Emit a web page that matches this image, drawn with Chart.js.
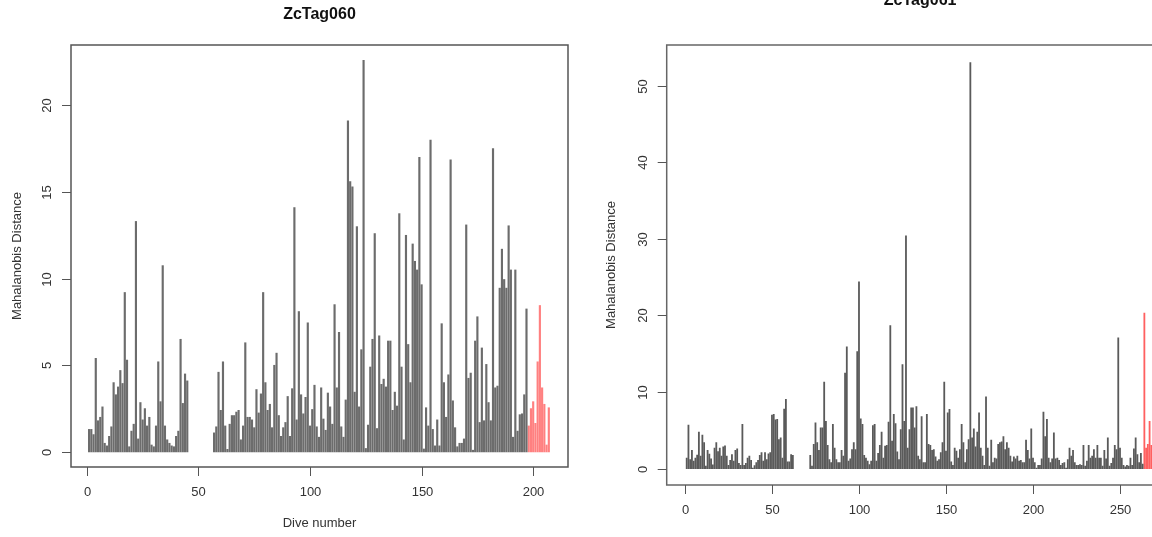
<!DOCTYPE html>
<html>
<head>
<meta charset="utf-8">
<script src="https://cdn.jsdelivr.net/npm/chart.js@4/dist/chart.umd.min.js"></script>
<style>
  html, body { margin: 0; padding: 0; background: #fff; overflow: hidden; width: 1152px; height: 537px; }
  canvas { position: absolute; top: 0; }
  #tag060 { left: 0; }
  #tag061 { left: 590px; }
</style>
</head>
<body>
<canvas id="tag060" width="590" height="537"></canvas>
<canvas id="tag061" width="610" height="537"></canvas>
<script>
// ZcTag060 - Mahalanobis distance per dive, dives 1..197 grey (null = no dive), 198..207 red
const tag060Gray = [
    1.3, 1.3, 1.0, 5.4, 1.8, 2.0, 2.6, 0.5, 0.35, 0.9,
    1.45, 4.0, 3.3, 3.75, 4.7, 3.95, 9.2, 5.3, 0.3, 1.2,
    1.6, 13.3, 0.75, 2.85, 1.85, 2.5, 1.5, 2.0, 0.4, 0.3,
    1.5, 5.2, 2.9, 10.75, 1.5, 0.7, 0.5, 0.35, 0.3, 0.9,
    1.2, 6.5, 2.8, 4.5, 4.1,
    null, null, null, null, null, null, null, null, null, null, null,
    1.1, 1.45, 4.6, 2.4, 5.2, 1.5, 0.15, 1.6, 2.1, 2.1,
    2.3, 2.4, 0.7, 1.5, 6.3, 2.0, 2.0, 1.85, 1.4, 3.6,
    2.25, 3.35, 9.2, 4.0, 2.4, 2.75, 1.4, 5.0, 5.7, 2.1,
    0.9, 1.4, 1.7, 3.2, 0.9, 3.65, 14.1, 1.85, 8.1,
    3.3, 2.2, 3.15, 7.45, 1.5, 2.45, 3.85, 1.45, 0.85, 3.7,
    1.9, 1.25, 3.4, 2.6, 1.6, 8.5, 3.7, 6.9, 1.45, 0.85,
    3.0, 19.1, 15.6, 15.3, 3.45, 13.0, 2.6, 5.9, 22.6, 0.2,
    1.55, 4.9, 6.5, 12.6, 1.35, 6.7, 3.9, 4.2, 3.75, 6.4,
    6.4, 2.4, 3.45, 2.65, 13.75, 4.9, 0.7, 12.5, 6.2,
    4.0, 12.0, 11.0, 10.5, 17.0, 9.65, 0.17, 2.55, 1.5, 18.0,
    1.3, 0.35, 1.85, 0.35, 7.4, 4.0, 2.0, 4.45, 16.85, 2.95,
    1.4, 0.3, 0.5, 0.5, 0.75, 13.1, 4.25, 4.55, 0.1, 6.4,
    7.8, 1.7, 6.0, 1.8, 5.05, 2.85, 1.8, 17.5, 3.7, 3.8,
    9.45, 11.7, 9.95, 9.45, 13.05, 10.5, 0.85, 10.5, 1.2, 2.15,
    2.2, 3.3, 8.25
];
const tag060RedFirstDive = 198;
const tag060Red = [1.5, 2.5, 2.9, 1.65, 5.2, 8.45, 3.7, 2.75, 0.4, 2.55];
const tag060XTicks = [0, 50, 100, 150, 200];
const tag060YTicks = [0, 5, 10, 15, 20];

// ZcTag061 - dives 1..263 grey, 264..270 red
const tag061Gray = [
    1.4, 5.7, 1.2, 2.4, 1.0, 1.4, 1.8, 4.8, 1.65, 4.4,
    3.4, 0.35, 2.4, 1.9, 1.3, 0.5, 2.7, 3.4, 2.25, 2.7,
    1.65, 2.85, 3.0, 1.65, 0.45, 1.1, 1.85, 1.0, 2.4, 2.6,
    0.7, 0.45, 5.8, 0.45, 0.7, 1.4, 1.65, 1.1, 0.1, 0.4,
    0.8, 1.1, 1.75, 2.1, 1.0, 2.1, 1.2, 1.95, 2.1, 7.0,
    7.1, 6.4, 6.45, 3.8, 4.05, 1.4, 7.8, 9.05, 0.9, 0.9,
    1.85, 1.75,
    null, null, null, null, null, null, null, null, null,
    1.75, 0.35, 3.2, 6.0, 3.4, 2.4, 5.35, 5.35, 11.3,
    6.2, 3.05, 1.2, 0.8, 5.8, 2.7, 1.2, 0.8, 0.8, 2.4,
    1.65, 12.5, 15.9, 1.0, 1.3, 2.5, 3.4, 2.5, 15.3, 24.4,
    6.5, 5.8, 1.75, 1.4, 1.0, 0.55, 1.0, 5.65, 5.8, 1.0,
    2.0, 3.05, 4.8, 1.4, 2.95, 3.05, 6.1, 18.7, 3.6, 7.1,
    5.9, 2.2, 1.2, 5.1, 13.6, 6.2, 30.4, 2.7, 5.1, 7.95,
    7.95, 5.35, 8.1, 1.65, 1.2, 6.8, 0.8, 0.8, 7.1, 3.2,
    3.05, 2.4, 2.5, 1.55, 1.0, 1.2, 2.1, 3.4, 11.3, 2.3,
    7.3, 7.75, 0.9, 0.45, 2.7, 2.3, 1.4, 2.5, 5.8, 3.4,
    0.8, 2.5, 3.8, 53.0, 4.05, 5.2, 2.85, 4.8, 7.3, 2.7,
    1.65, 0.45, 9.4, 2.7, 0.35, 3.75, 0.8, 1.4, 1.3, 3.2,
    3.4, 3.5, 4.2, 2.5, 3.4, 2.7, 1.65, 0.9, 1.55, 1.3,
    1.65, 1.0, 1.1, 0.8, 0.8, 3.75, 2.4, 1.3, 5.2, 1.4,
    0.8, 0.1, 0.45, 0.45, 1.3, 7.4, 4.2, 6.45, 1.4, 0.8,
    1.3, 4.7, 1.3, 1.4, 1.1, 0.45, 0.7, 0.8, 0.1, 1.2,
    2.7, 1.65, 2.4, 0.8, 0.45, 0.45, 0.55, 0.45, 3.05, 0.35,
    1.0, 3.05, 1.4, 1.65, 2.5, 1.4, 3.05, 1.4, 1.4, 0.35,
    2.4, 1.3, 4.05, 0.35, 0.7, 1.4, 3.05, 2.5, 17.1, 2.7,
    1.4, 0.45, 0.25, 0.45, 0.35, 1.4, 0.45, 2.6, 4.05, 1.85,
    0.8, 2.0, 0.6
];
const tag061RedFirstDive = 264;
const tag061Red = [20.3, 2.7, 3.2, 6.2, 3.05, 2.5, 1.6];
const tag061XTicks = [0, 50, 100, 150, 200, 250];
const tag061YTicks = [0, 10, 20, 30, 40, 50];

// turn a value list into {x: dive, y: distance} points, dropping missing dives
function toPoints(values, firstDive) {
    return values
        .map((v, i) => ({ x: firstDive + i, y: v }))
        .filter(p => p.y !== null);
}

// R-like box, ticks, rotated y labels and titles drawn from the chart's scales
const rAxesPlugin = {
    id: 'rAxes',
    afterDraw(chart, args, o) {
        const ctx = chart.ctx;
        const a = chart.chartArea;
        const xs = chart.scales.x;
        const ys = chart.scales.y;
        ctx.save();

        ctx.strokeStyle = o.boxColor;
        ctx.lineWidth = 1.5;
        ctx.strokeRect(a.left, a.top, a.right - a.left, a.bottom - a.top);

        ctx.strokeStyle = '#555';
        ctx.lineWidth = 1;
        ctx.fillStyle = '#333';
        ctx.font = '13px "Liberation Sans", Arial, sans-serif';
        ctx.textAlign = 'center';
        ctx.textBaseline = 'middle';

        o.xTicks.forEach(v => {
            const px = Math.round(xs.getPixelForValue(v)) + 0.5;
            ctx.beginPath();
            ctx.moveTo(px, a.bottom);
            ctx.lineTo(px, a.bottom + o.tickLen);
            ctx.stroke();
            ctx.fillText(String(v), px, a.bottom + o.xLabelGap);
        });

        o.yTicks.forEach(v => {
            const py = Math.round(ys.getPixelForValue(v)) + 0.5;
            ctx.beginPath();
            ctx.moveTo(a.left - o.tickLen, py);
            ctx.lineTo(a.left, py);
            ctx.stroke();
            ctx.save();
            ctx.translate(a.left - o.yLabelGap, py);
            ctx.rotate(-Math.PI / 2);
            ctx.fillText(String(v), 0, 0);
            ctx.restore();
        });

        const midX = (a.left + a.right) / 2;
        const midY = (a.top + a.bottom) / 2;
        ctx.fillText(o.xTitle, midX, a.bottom + o.xTitleGap);

        ctx.save();
        ctx.translate(a.left - o.yTitleGap, midY);
        ctx.rotate(-Math.PI / 2);
        ctx.fillText(o.yTitle, 0, 0);
        ctx.restore();

        ctx.fillStyle = '#111';
        ctx.font = 'bold 16px "Liberation Sans", Arial, sans-serif';
        ctx.fillText(o.title, midX, o.titleY);
        ctx.restore();
    }
};

function makeChart(id, gray, red, redFirst, xRange, yRange, padding, look, axes) {
    const ctx = document.getElementById(id).getContext('2d');
    return new Chart(ctx, {
        type: 'bar',
        data: {
            datasets: [
                {
                    data: toPoints(gray, 1),
                    backgroundColor: look.gray,
                    barThickness: look.thick,
                    grouped: false,
                    borderWidth: 0
                },
                {
                    data: toPoints(red, redFirst),
                    backgroundColor: look.red,
                    barThickness: look.thick,
                    grouped: false,
                    borderWidth: 0
                }
            ]
        },
        options: {
            responsive: false,
            animation: false,
            devicePixelRatio: 1,
            layout: { padding: padding },
            scales: {
                x: { type: 'linear', min: xRange[0], max: xRange[1], offset: false, display: false },
                y: { type: 'linear', min: yRange[0], max: yRange[1], display: false }
            },
            plugins: {
                legend: { display: false },
                tooltip: { enabled: false },
                rAxes: axes
            }
        },
        plugins: [rAxesPlugin]
    });
}

makeChart('tag060', tag060Gray, tag060Red, tag060RedFirstDive,
    [-7.1, 215.6], [-0.87, 23.48],
    { left: 71, right: 22, top: 45, bottom: 70 },
    { gray: '#6c6c6c', red: '#ff8080', thick: 1.5 },
    {
        title: 'ZcTag060', titleY: 15, boxColor: '#555',
        xTicks: tag060XTicks, yTicks: tag060YTicks,
        tickLen: 9, xLabelGap: 25, yLabelGap: 24,
        xTitle: 'Dive number', xTitleGap: 56,
        yTitle: 'Mahalanobis Distance', yTitleGap: 54
    });

makeChart('tag061', tag061Gray, tag061Red, tag061RedFirstDive,
    [-10.5, 280.8], [-2.12, 55.3],
    { left: 76.7, right: 26.4, top: 45, bottom: 52 },
    { gray: '#5a5a5a', red: '#ff6060', thick: 1.15 },
    {
        title: 'ZcTag061', titleY: 1, boxColor: '#666',
        xTicks: tag061XTicks, yTicks: tag061YTicks,
        tickLen: 9, xLabelGap: 25, yLabelGap: 23,
        xTitle: 'Dive number', xTitleGap: 64,
        yTitle: 'Mahalanobis Distance', yTitleGap: 55
    });
</script>
</body>
</html>
